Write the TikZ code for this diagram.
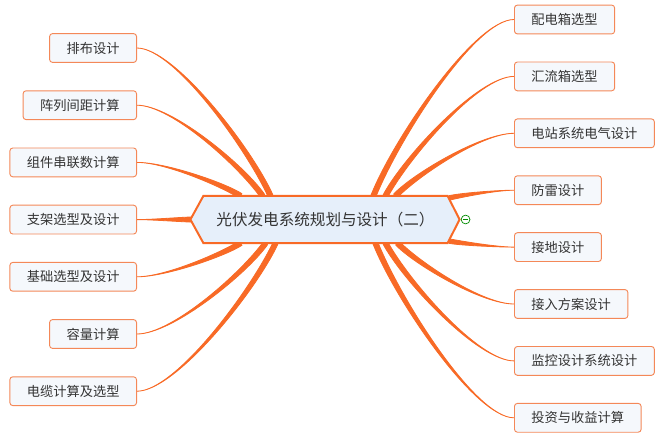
\documentclass[tikz,border=0pt]{standalone}
\usepackage{fontspec}
\newfontfamily\cjk{Noto Sans CJK SC}
\usetikzlibrary{calc}
\pgfdeclarelayer{links}
\pgfdeclarelayer{background}
\pgfsetlayers{links,background,main}
\definecolor{BranchOrange}{RGB}{248,106,38}
\definecolor{LeafLine}{RGB}{244,136,88}
\definecolor{LeafFill}{RGB}{245,248,252}
\definecolor{HubFill}{RGB}{230,239,250}
\definecolor{TextGray}{RGB}{51,51,51}
\newcommand{\Branch}[3]%
% root, leaf, half width at the root
{ \begin{pgfonlayer}{links}
    \path[branch] let \p1=(#1), \p2=(#2),
        \p3=({\x1+0.16*(\x2-\x1)},{\y1+0.32*(\y2-\y1)}),
        \p4=({\x1+0.72*(\x2-\x1)},\y2) in
        ($(\p1)!#3!90:(\p3)$) .. controls ($(\p3)!#3!-90:(\p1)$) and (\p4) .. (\p2)
        .. controls (\p4) and ($(\p3)!#3!90:(\p1)$) .. ($(\p1)!#3!-90:(\p3)$) -- cycle;
  \end{pgfonlayer}
}

\begin{document}
\begin{tikzpicture}
[   x=0.03cm, y=-0.03cm,
    leaf/.style={draw=LeafLine, fill=LeafFill, rounded corners=2.5pt, line width=0.8pt,
        minimum height=24.6pt, inner xsep=14.5pt, inner ysep=0pt, text=TextGray,
        font=\cjk\fontsize{11.3pt}{13pt}\selectfont},
    hub/.style={minimum width=208pt, minimum height=40pt, inner sep=0pt, text=TextGray,
        font=\cjk\fontsize{13.3pt}{16pt}\selectfont},
    hubframe/.style={draw=BranchOrange, fill=HubFill, line width=1.7pt, line join=miter},
    branch/.style={fill=BranchOrange, draw=BranchOrange, line width=0.7pt, line join=round},
    fold/.style={circle, draw=green!55!black, fill=white, line width=0.6pt, minimum size=7.5pt, inner sep=0pt}
]
    \useasboundingbox (0,0) rectangle (665,438);

    \node[hub] (hub) at (325.5,219.5) {光伏发电系统规划与设计（二）};
    \begin{pgfonlayer}{background}
        \draw[hubframe] (hub.north west) -- (hub.north east) -- ($(hub.east)+(12,0)$)
            -- (hub.south east) -- (hub.south west) -- ($(hub.west)+(-13,0)$) -- cycle;
    \end{pgfonlayer}
    \node[fold] (fold) at ($(hub.east)+(18,0)$) {};
    \draw[green!55!black, line width=0.7pt] ($(fold.center)+(-2.4,0)$) -- ($(fold.center)+(2.4,0)$);

    % left side
    \foreach \t [count=\i] in {排布设计, 阵列间距计算, 组件串联数计算, 支架选型及设计,
        基础选型及设计, 容量计算, 电缆计算及选型}
    {   \node[leaf, anchor=east] (L-\i) at (137,{48+57.2*(\i-1)}) {\t};
    }
    \foreach \i/\dx/\side in {1/-55/north, 2/-63/north, 3/-85/north,
        5/-85/south, 6/-60/south, 7/-50/south}
    {   \coordinate (rL-\i) at ($(hub.\side)+(\dx,0)$);
        \Branch{rL-\i}{L-\i.east}{2.2pt}
    }
    \coordinate (rL-4) at ($(hub.west)+(-10,0)$);
    \Branch{rL-4}{L-4.east}{2.2pt}

    % right side
    \foreach \t [count=\i] in {配电箱选型, 汇流箱选型, 电站系统电气设计, 防雷设计,
        接地设计, 接入方案设计, 监控设计系统设计, 投资与收益计算}
    {   \node[leaf, anchor=west] (R-\i) at (514,{19.5+56.9*(\i-1)}) {\t};
    }
    \foreach \i/\dx/\side in {1/48/north, 2/60/north, 3/70/north,
        6/72/south, 7/60/south, 8/50/south}
    {   \coordinate (rR-\i) at ($(hub.\side)+(\dx,0)$);
        \Branch{rR-\i}{R-\i.west}{2.2pt}
    }
    \coordinate (rR-4) at ($(hub.north east)+(2,2)$);
    \Branch{rR-4}{R-4.west}{1.9pt}
    \coordinate (rR-5) at ($(hub.south east)+(2,-2)$);
    \Branch{rR-5}{R-5.west}{1.9pt}
\end{tikzpicture}
\end{document}
